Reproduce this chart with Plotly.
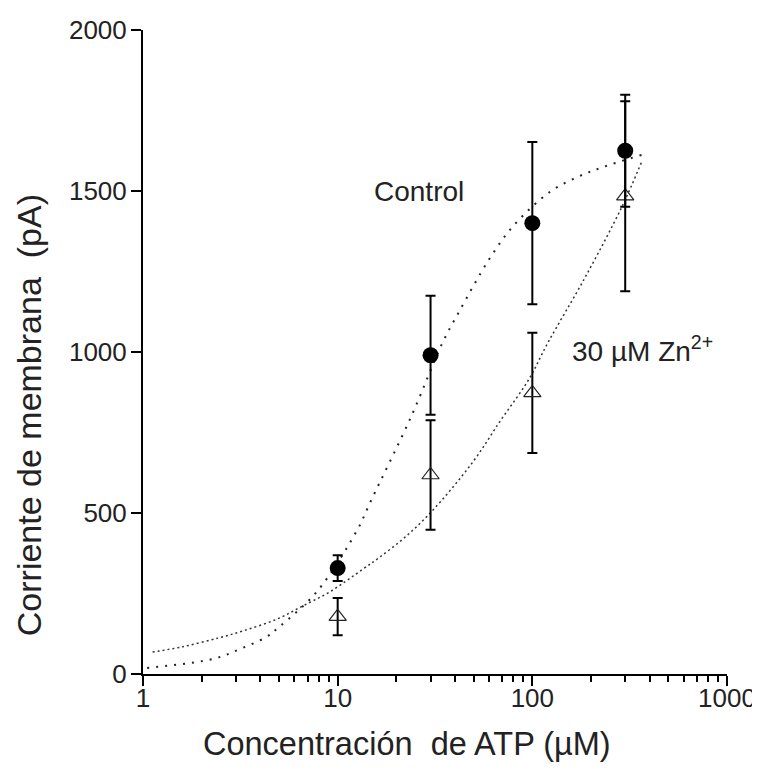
import plotly.graph_objects as go

# ---- data ----
atp = [10, 30, 100, 300]
control = [329, 990, 1400, 1625]
control_err = [40, 185, 252, 174]
zinc = [178, 618, 873, 1484]
zinc_err = [58, 170, 187, 295]

# fitted curves, points
ctrl_fit_x = [1.05, 2.3, 3.16, 4.3, 5.0, 7.8, 12.6, 14.8, 23.8, 34.7, 41.7, 60, 80, 123, 170, 230, 364]
ctrl_fit_y = [19, 47, 78, 115, 146, 255, 447, 537, 798, 1031, 1121, 1288, 1392, 1497, 1543, 1574, 1612]
zn_fit_x = [1.12, 1.58, 2.45, 3.39, 4.9, 6.6, 9.1, 13.5, 16.2, 21.9, 30.2, 49, 69, 95.5, 120, 186, 288, 364]
zn_fit_y = [68, 84, 112, 137, 171, 211, 255, 326, 360, 422, 503, 655, 789, 913, 1028, 1230, 1450, 1590]

x_ticks = [1, 10, 100, 1000]
x_ticklabels = ["1", "10", "100", "1000"]
y_ticks = [0, 500, 1000, 1500, 2000]
minor_vals = [m * d for d in (1, 10, 100) for m in range(2, 10)]

FONT = "Liberation Sans, Arial, sans-serif"

fig = go.Figure()

fig.add_trace(go.Scatter(
    x=ctrl_fit_x, y=ctrl_fit_y, mode="lines",
    line=dict(color="#222", width=2, dash="2px,7px", shape="spline"),
    showlegend=False, hoverinfo="skip"))
fig.add_trace(go.Scatter(
    x=zn_fit_x, y=zn_fit_y, mode="lines",
    line=dict(color="#333", width=1.5, dash="2px,3px", shape="spline"),
    showlegend=False, hoverinfo="skip"))

fig.add_trace(go.Scatter(
    x=atp, y=zinc, mode="markers",
    marker=dict(symbol="triangle-up-open", size=15, color="#222", line=dict(width=1.2)),
    error_y=dict(type="data", array=zinc_err, visible=True, color="black", thickness=2, width=5),
    showlegend=False))
fig.add_trace(go.Scatter(
    x=atp, y=control, mode="markers",
    marker=dict(symbol="circle", size=16, color="black"),
    error_y=dict(type="data", array=control_err, visible=True, color="black", thickness=2, width=5),
    showlegend=False))

fig.update_layout(
    width=760, height=771,
    margin=dict(l=135, r=41, t=22, b=105),
    paper_bgcolor="white", plot_bgcolor="white",
    font=dict(family=FONT, color="#222"),
    xaxis=dict(
        type="log", range=[0, 3], showgrid=False, zeroline=False, automargin=False,
        showline=True, linecolor="black", linewidth=2,
        ticks="outside", ticklen=10, tickwidth=2, tickcolor="black",
        tickvals=x_ticks, ticktext=x_ticklabels,
        tickfont=dict(size=26, family=FONT, color="#222"),
        ticklabelstandoff=-10,
        minor=dict(tickvals=minor_vals, ticks="outside", ticklen=6, tickwidth=1.5, tickcolor="black"),
    ),
    yaxis=dict(
        range=[0, 2000], showgrid=False, zeroline=False, automargin=False,
        showline=True, linecolor="black", linewidth=2,
        ticks="outside", ticklen=10, tickwidth=2, tickcolor="black",
        tickvals=y_ticks, tickfont=dict(size=26, family=FONT, color="#222"),
        ticklabelstandoff=-1,
    ),
    annotations=[
        dict(text="Concentración  de ATP (µM)", xref="paper", yref="paper",
             x=0.452, y=-0.108, showarrow=False, xanchor="center", yanchor="middle",
             font=dict(size=32.5, family=FONT, color="#222")),
        dict(text="Corriente de membrana  (pA)", xref="paper", yref="paper",
             x=-0.195, y=0.402, showarrow=False, xanchor="center", yanchor="middle",
             textangle=-90, font=dict(size=34, family=FONT, color="#222")),
        dict(text="Control", xref="paper", yref="paper",
             x=0.4726, y=0.75, showarrow=False, xanchor="center", yanchor="middle",
             font=dict(size=28, family=FONT, color="#222")),
        dict(text="30 µM Zn<sup>2+</sup>", xref="paper", yref="paper",
             x=0.731, y=0.505, showarrow=False, xanchor="left", yanchor="middle",
             font=dict(size=28, family=FONT, color="#222")),
    ],
)

fig.write_html("out.html")
